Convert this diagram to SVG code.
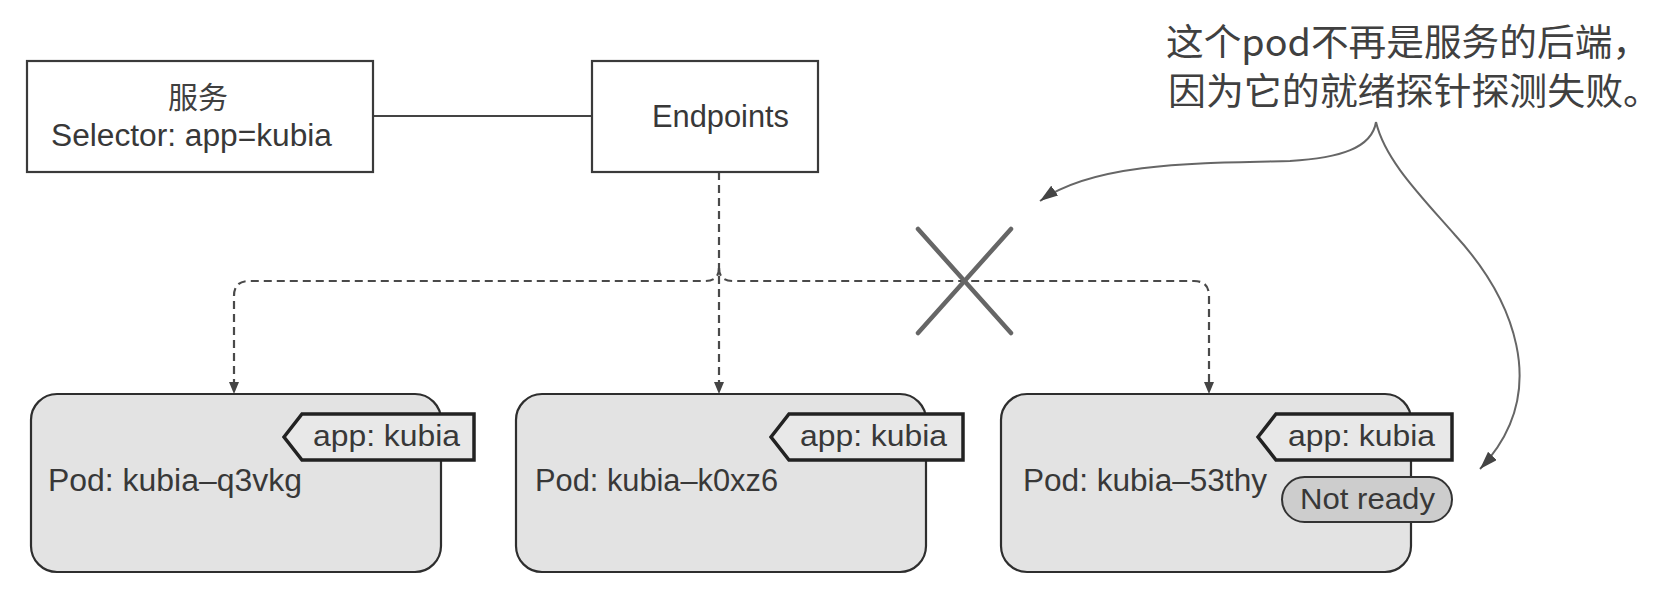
<svg xmlns="http://www.w3.org/2000/svg" width="1680" height="614" viewBox="0 0 1680 614">
<style>
.t{font-family:"Liberation Sans",Arial,"Noto Sans CJK SC",sans-serif;fill:#383838}
.cjk{font-family:"Noto Sans CJK SC","Liberation Sans",sans-serif;fill:#404040}
.box{fill:#ffffff;stroke:#3a3a3a;stroke-width:2.2}
.pod{fill:#e3e3e3;stroke:#2e2e2e;stroke-width:2.2}
.tag{fill:#e8e8e8;stroke:#222;stroke-width:3.5;stroke-linejoin:miter}
.pill{fill:#cdcdcd;stroke:#333;stroke-width:2}
.dash{fill:none;stroke:#4a4a4a;stroke-width:2.2;stroke-dasharray:8 5}
.solid{fill:none;stroke:#444;stroke-width:2.2}
.curve{fill:none;stroke:#666;stroke-width:2}
.xmark{stroke:#666;stroke-width:4.5;stroke-linecap:round}
</style>
<defs>
<marker id="cArrow" viewBox="0 0 18 12" refX="18" refY="6" markerWidth="18" markerHeight="12" markerUnits="userSpaceOnUse" orient="auto">
<path d="M0,0 L18,6 L0,12 Z" fill="#444"/>
</marker>
</defs>
<rect width="1680" height="614" fill="#ffffff"/>

<g id="connectors">
<line class="solid" x1="373" y1="116" x2="592" y2="116"/>
<path class="dash" d="M719,172 L719,382"/>
<path class="dash" d="M719,268 Q719,281 705,281 L249,281 Q234,281 234,296 L234,382"/>
<path class="dash" d="M719,268 Q719,281 733,281 L1194,281 Q1209,281 1209,296 L1209,382"/>
<path d="M229,382 L239,382 L234,394 Z" fill="#444"/>
<path d="M714,382 L724,382 L719,394 Z" fill="#444"/>
<path d="M1204,382 L1214,382 L1209,394 Z" fill="#444"/>
<path class="curve" d="M1376,122 C1372,148 1340,158 1290,161 C1200,163 1095,162 1040,201" marker-end="url(#cArrow)"/>
<path class="curve" d="M1376,122 C1385,160 1420,195 1455,235 C1510,295 1555,390 1480,469" marker-end="url(#cArrow)"/>
</g>

<g id="xmark">
<line class="xmark" x1="918" y1="229" x2="1011" y2="333"/>
<line class="xmark" x1="1011" y1="229" x2="918" y2="333"/>
</g>

<g id="service">
<rect class="box" x="27" y="61" width="346" height="111"/>
<text class="cjk" x="198" y="108" font-size="30" text-anchor="middle">服务</text>
<text class="t" x="51" y="146" font-size="31" textLength="281" lengthAdjust="spacingAndGlyphs">Selector: app=kubia</text>
</g>

<g id="endpoints">
<rect class="box" x="592" y="61" width="226" height="111"/>
<text class="t" x="652" y="127" font-size="31" textLength="137" lengthAdjust="spacingAndGlyphs">Endpoints</text>
</g>

<g id="pod1">
<rect class="pod" x="31" y="394" width="410" height="178" rx="26"/>
<polygon class="tag" points="284,437 302,414 474,414 474,460 302,460"/>
<text class="t" x="313" y="446" font-size="29" textLength="147" lengthAdjust="spacingAndGlyphs">app: kubia</text>
<text class="t" x="48" y="491" font-size="31" textLength="254" lengthAdjust="spacingAndGlyphs">Pod: kubia–q3vkg</text>
</g>

<g id="pod2">
<rect class="pod" x="516" y="394" width="410" height="178" rx="26"/>
<polygon class="tag" points="771,437 789,414 963,414 963,460 789,460"/>
<text class="t" x="800" y="446" font-size="29" textLength="147" lengthAdjust="spacingAndGlyphs">app: kubia</text>
<text class="t" x="535" y="491" font-size="31" textLength="243" lengthAdjust="spacingAndGlyphs">Pod: kubia–k0xz6</text>
</g>

<g id="pod3">
<rect class="pod" x="1001" y="394" width="410" height="178" rx="26"/>
<polygon class="tag" points="1258,437 1276,414 1452,414 1452,460 1276,460"/>
<text class="t" x="1288" y="446" font-size="29" textLength="147" lengthAdjust="spacingAndGlyphs">app: kubia</text>
<text class="t" x="1023" y="491" font-size="31" textLength="244" lengthAdjust="spacingAndGlyphs">Pod: kubia–53thy</text>
<rect class="pill" x="1282" y="477" width="170" height="45" rx="22.5"/>
<text class="t" x="1300" y="509" font-size="29" textLength="135" lengthAdjust="spacingAndGlyphs">Not ready</text>
</g>

<g id="note">
<text class="cjk" x="1166" y="56" font-size="37" textLength="484" lengthAdjust="spacingAndGlyphs">这个pod不再是服务的后端，</text>
<text class="cjk" x="1168" y="105" font-size="37" textLength="493" lengthAdjust="spacingAndGlyphs">因为它的就绪探针探测失败。</text>
</g>
</svg>
